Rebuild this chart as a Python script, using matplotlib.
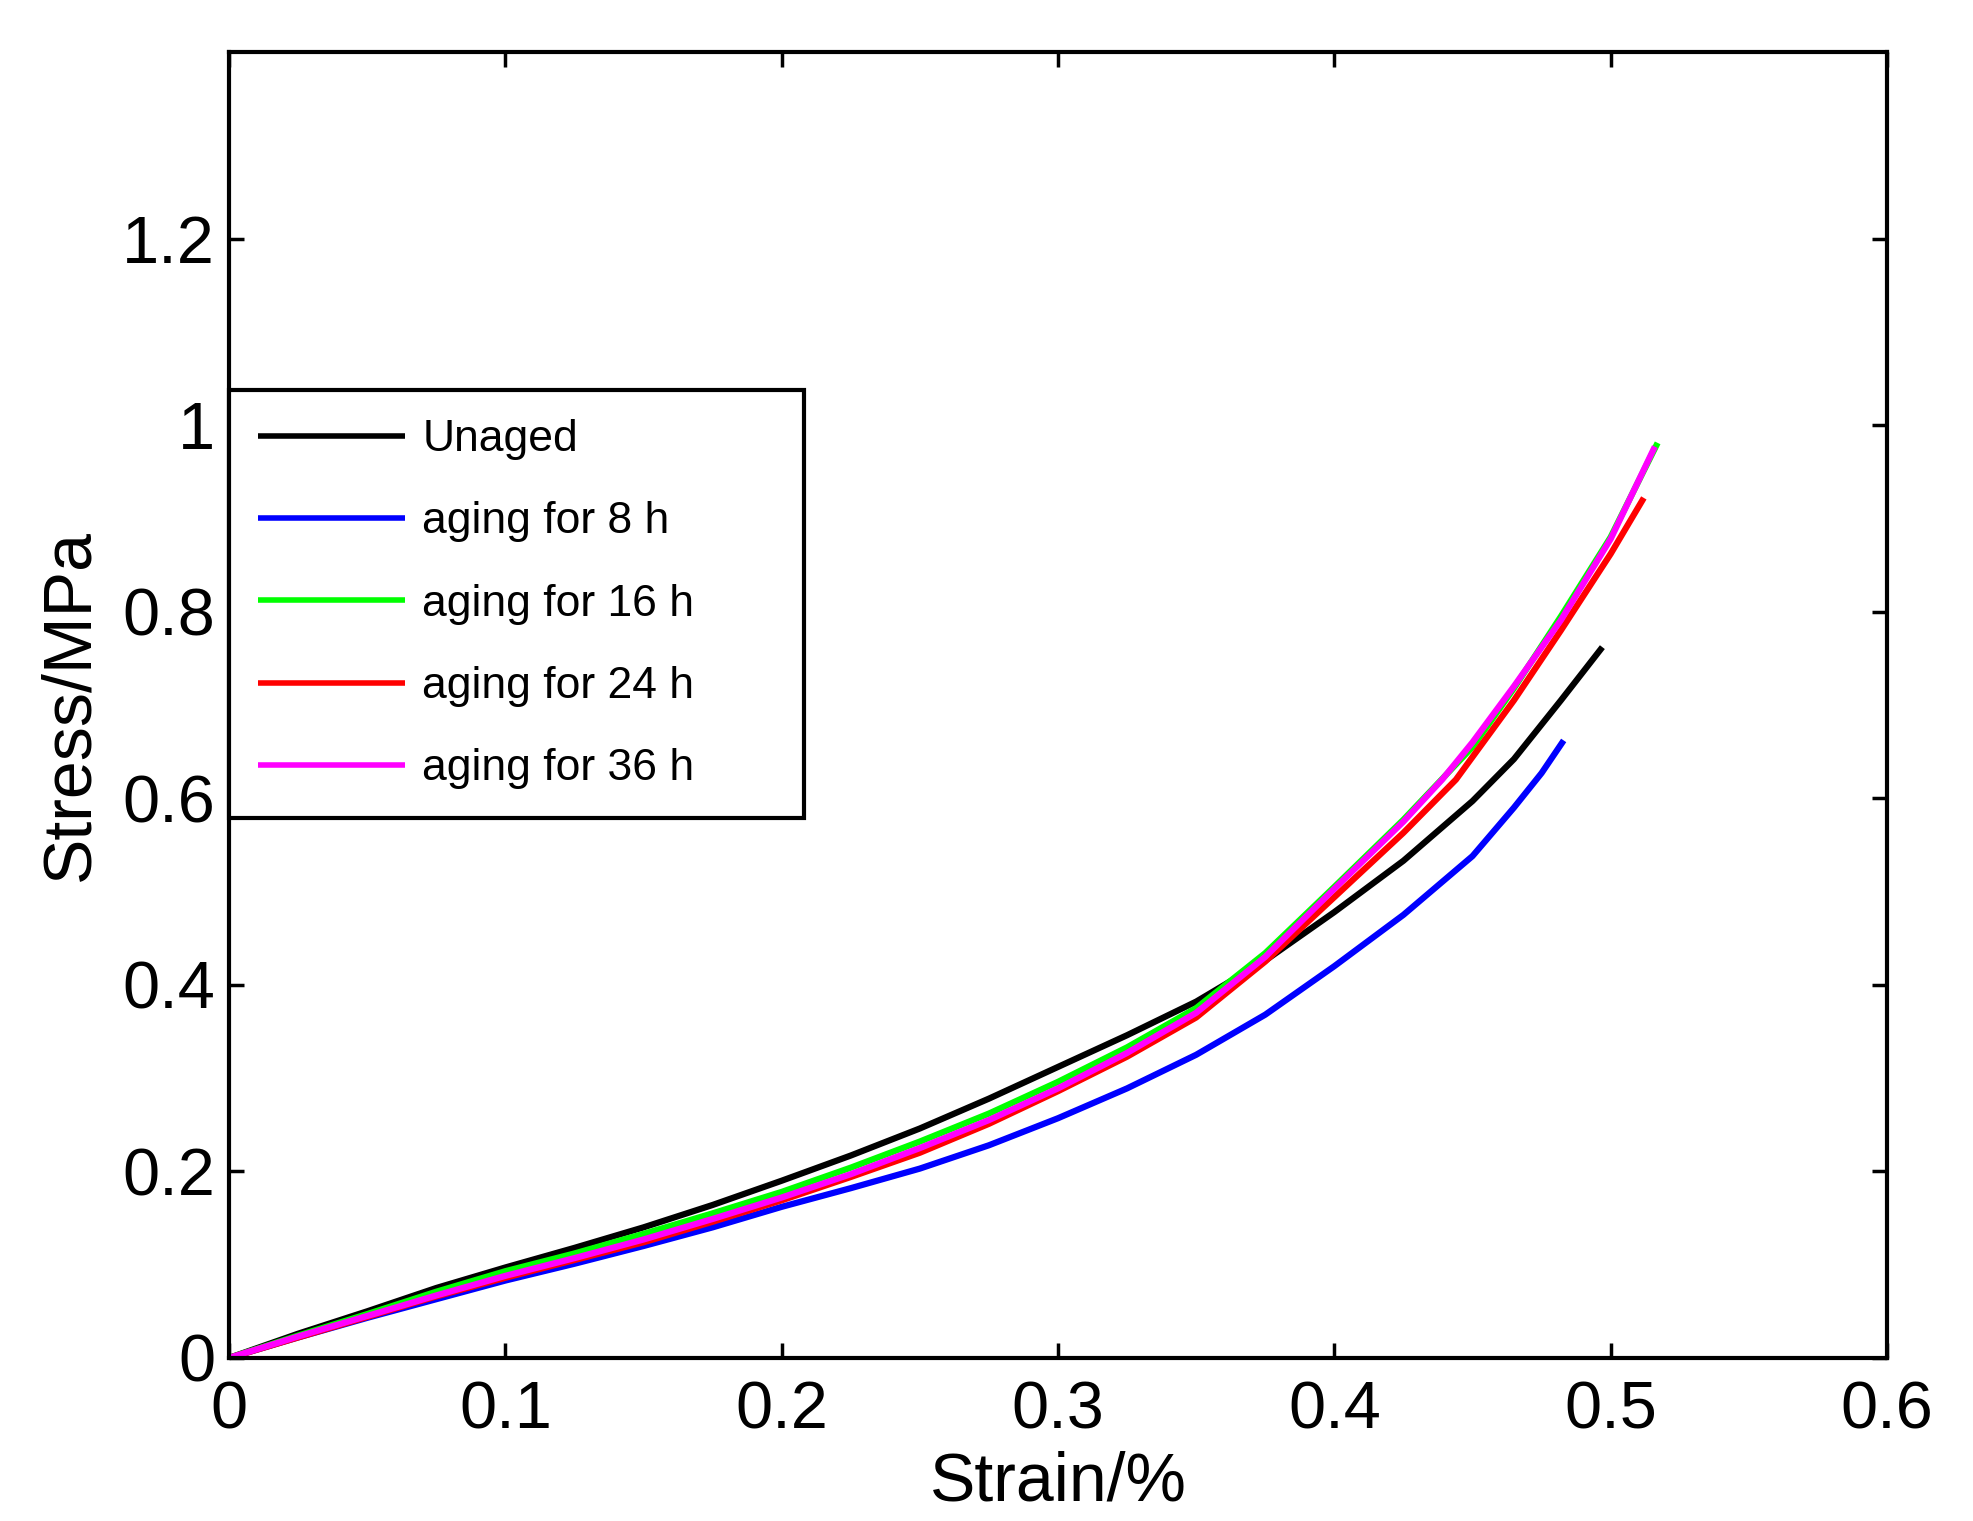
import numpy as np
import matplotlib
matplotlib.use("Agg")
import matplotlib.pyplot as plt
from matplotlib.ticker import FormatStrFormatter

plt.rcParams['font.family'] = ['Liberation Sans', 'DejaVu Sans']

# strain (%) and stress (MPa)
strain_unaged = [0, 0.025, 0.05, 0.075, 0.1, 0.125, 0.15, 0.175, 0.2, 0.225, 0.25, 0.275,
                 0.3, 0.325, 0.35, 0.375, 0.4, 0.425, 0.45, 0.465, 0.482, 0.497]
stress_unaged = [0, 0.026, 0.05, 0.075, 0.097, 0.118, 0.14, 0.164, 0.19, 0.217, 0.246, 0.278,
                 0.312, 0.346, 0.382, 0.426, 0.478, 0.533, 0.597, 0.642, 0.705, 0.762]

strain_8h = [0, 0.025, 0.05, 0.075, 0.1, 0.125, 0.15, 0.175, 0.2, 0.225, 0.25, 0.275,
             0.3, 0.325, 0.35, 0.375, 0.4, 0.425, 0.45, 0.465, 0.475, 0.483]
stress_8h = [0, 0.022, 0.043, 0.063, 0.083, 0.101, 0.12, 0.14, 0.162, 0.182, 0.203, 0.228,
             0.257, 0.289, 0.325, 0.368, 0.42, 0.475, 0.538, 0.59, 0.627, 0.662]

strain_16h = [0, 0.025, 0.05, 0.075, 0.1, 0.125, 0.15, 0.175, 0.2, 0.225, 0.25, 0.275,
              0.3, 0.325, 0.35, 0.375, 0.4, 0.425, 0.45, 0.465, 0.482, 0.5, 0.517]
stress_16h = [0, 0.024, 0.047, 0.071, 0.093, 0.112, 0.133, 0.155, 0.178, 0.204, 0.232, 0.262,
              0.296, 0.333, 0.375, 0.434, 0.505, 0.577, 0.655, 0.718, 0.795, 0.88, 0.981]

strain_24h = [0, 0.025, 0.05, 0.075, 0.1, 0.125, 0.15, 0.175, 0.2, 0.225, 0.25, 0.275,
              0.3, 0.325, 0.35, 0.375, 0.4, 0.425, 0.444, 0.465, 0.482, 0.5, 0.512]
stress_24h = [0, 0.022, 0.044, 0.066, 0.086, 0.105, 0.124, 0.146, 0.169, 0.194, 0.22, 0.251,
              0.286, 0.323, 0.365, 0.425, 0.494, 0.563, 0.62, 0.705, 0.78, 0.862, 0.922]

strain_36h = [0, 0.025, 0.05, 0.075, 0.1, 0.125, 0.15, 0.175, 0.2, 0.225, 0.25, 0.275,
              0.3, 0.325, 0.35, 0.375, 0.4, 0.425, 0.439, 0.45, 0.465, 0.482, 0.5, 0.516]
stress_36h = [0, 0.023, 0.045, 0.067, 0.088, 0.107, 0.127, 0.149, 0.172, 0.197, 0.225, 0.255,
              0.289, 0.327, 0.37, 0.43, 0.503, 0.575, 0.62, 0.66, 0.72, 0.791, 0.878, 0.977]

labels = ["Unaged", "aging for 8 h", "aging for 16 h", "aging for 24 h", "aging for 36 h"]
colors = ["k", "b", "#00ff00", "r", "#ff00ff"]

xticks = [0, 0.1, 0.2, 0.3, 0.4, 0.5, 0.6]
yticks = [0, 0.2, 0.4, 0.6, 0.8, 1.0, 1.2]

fig = plt.figure(figsize=(19.73, 15.21), dpi=100)
ax = fig.add_axes([0.1161, 0.1072, 0.8403, 0.8586])

series = [(strain_unaged, stress_unaged), (strain_8h, stress_8h),
          (strain_16h, stress_16h), (strain_24h, stress_24h),
          (strain_36h, stress_36h)]
for (x, y), lab, c in zip(series, labels, colors):
    ax.plot(x, y, color=c, lw=4.5, label=lab, solid_capstyle="butt",
            solid_joinstyle="round")

ax.set_xlim(0, 0.6)
ax.set_ylim(0, 1.4)
ax.set_xticks(xticks)
ax.set_yticks(yticks)
ax.xaxis.set_major_formatter(FormatStrFormatter("%g"))
ax.yaxis.set_major_formatter(FormatStrFormatter("%g"))
ax.tick_params(direction="in", length=11, width=2.5, labelsize=48,
               top=True, right=True)
ax.tick_params(axis="x", pad=16)
ax.tick_params(axis="y", pad=10)
for s in ax.spines.values():
    s.set_linewidth(3)

ax.set_xlabel("Strain/%", fontsize=49, labelpad=6)
ax.set_ylabel("Stress/MPa", fontsize=49, labelpad=14)

leg = ax.legend(loc="upper left", bbox_to_anchor=(0.0, 0.416, 0.347, 0.325),
                mode="expand", fontsize=32, frameon=True, fancybox=False,
                framealpha=1, edgecolor="k", borderpad=0.65, labelspacing=0.93,
                handlelength=3.3, handletextpad=0.4, borderaxespad=0)
leg.get_frame().set_linewidth(3)
for line in leg.get_lines():
    line.set_linewidth(4)

fig.savefig("out.png", dpi=100)
